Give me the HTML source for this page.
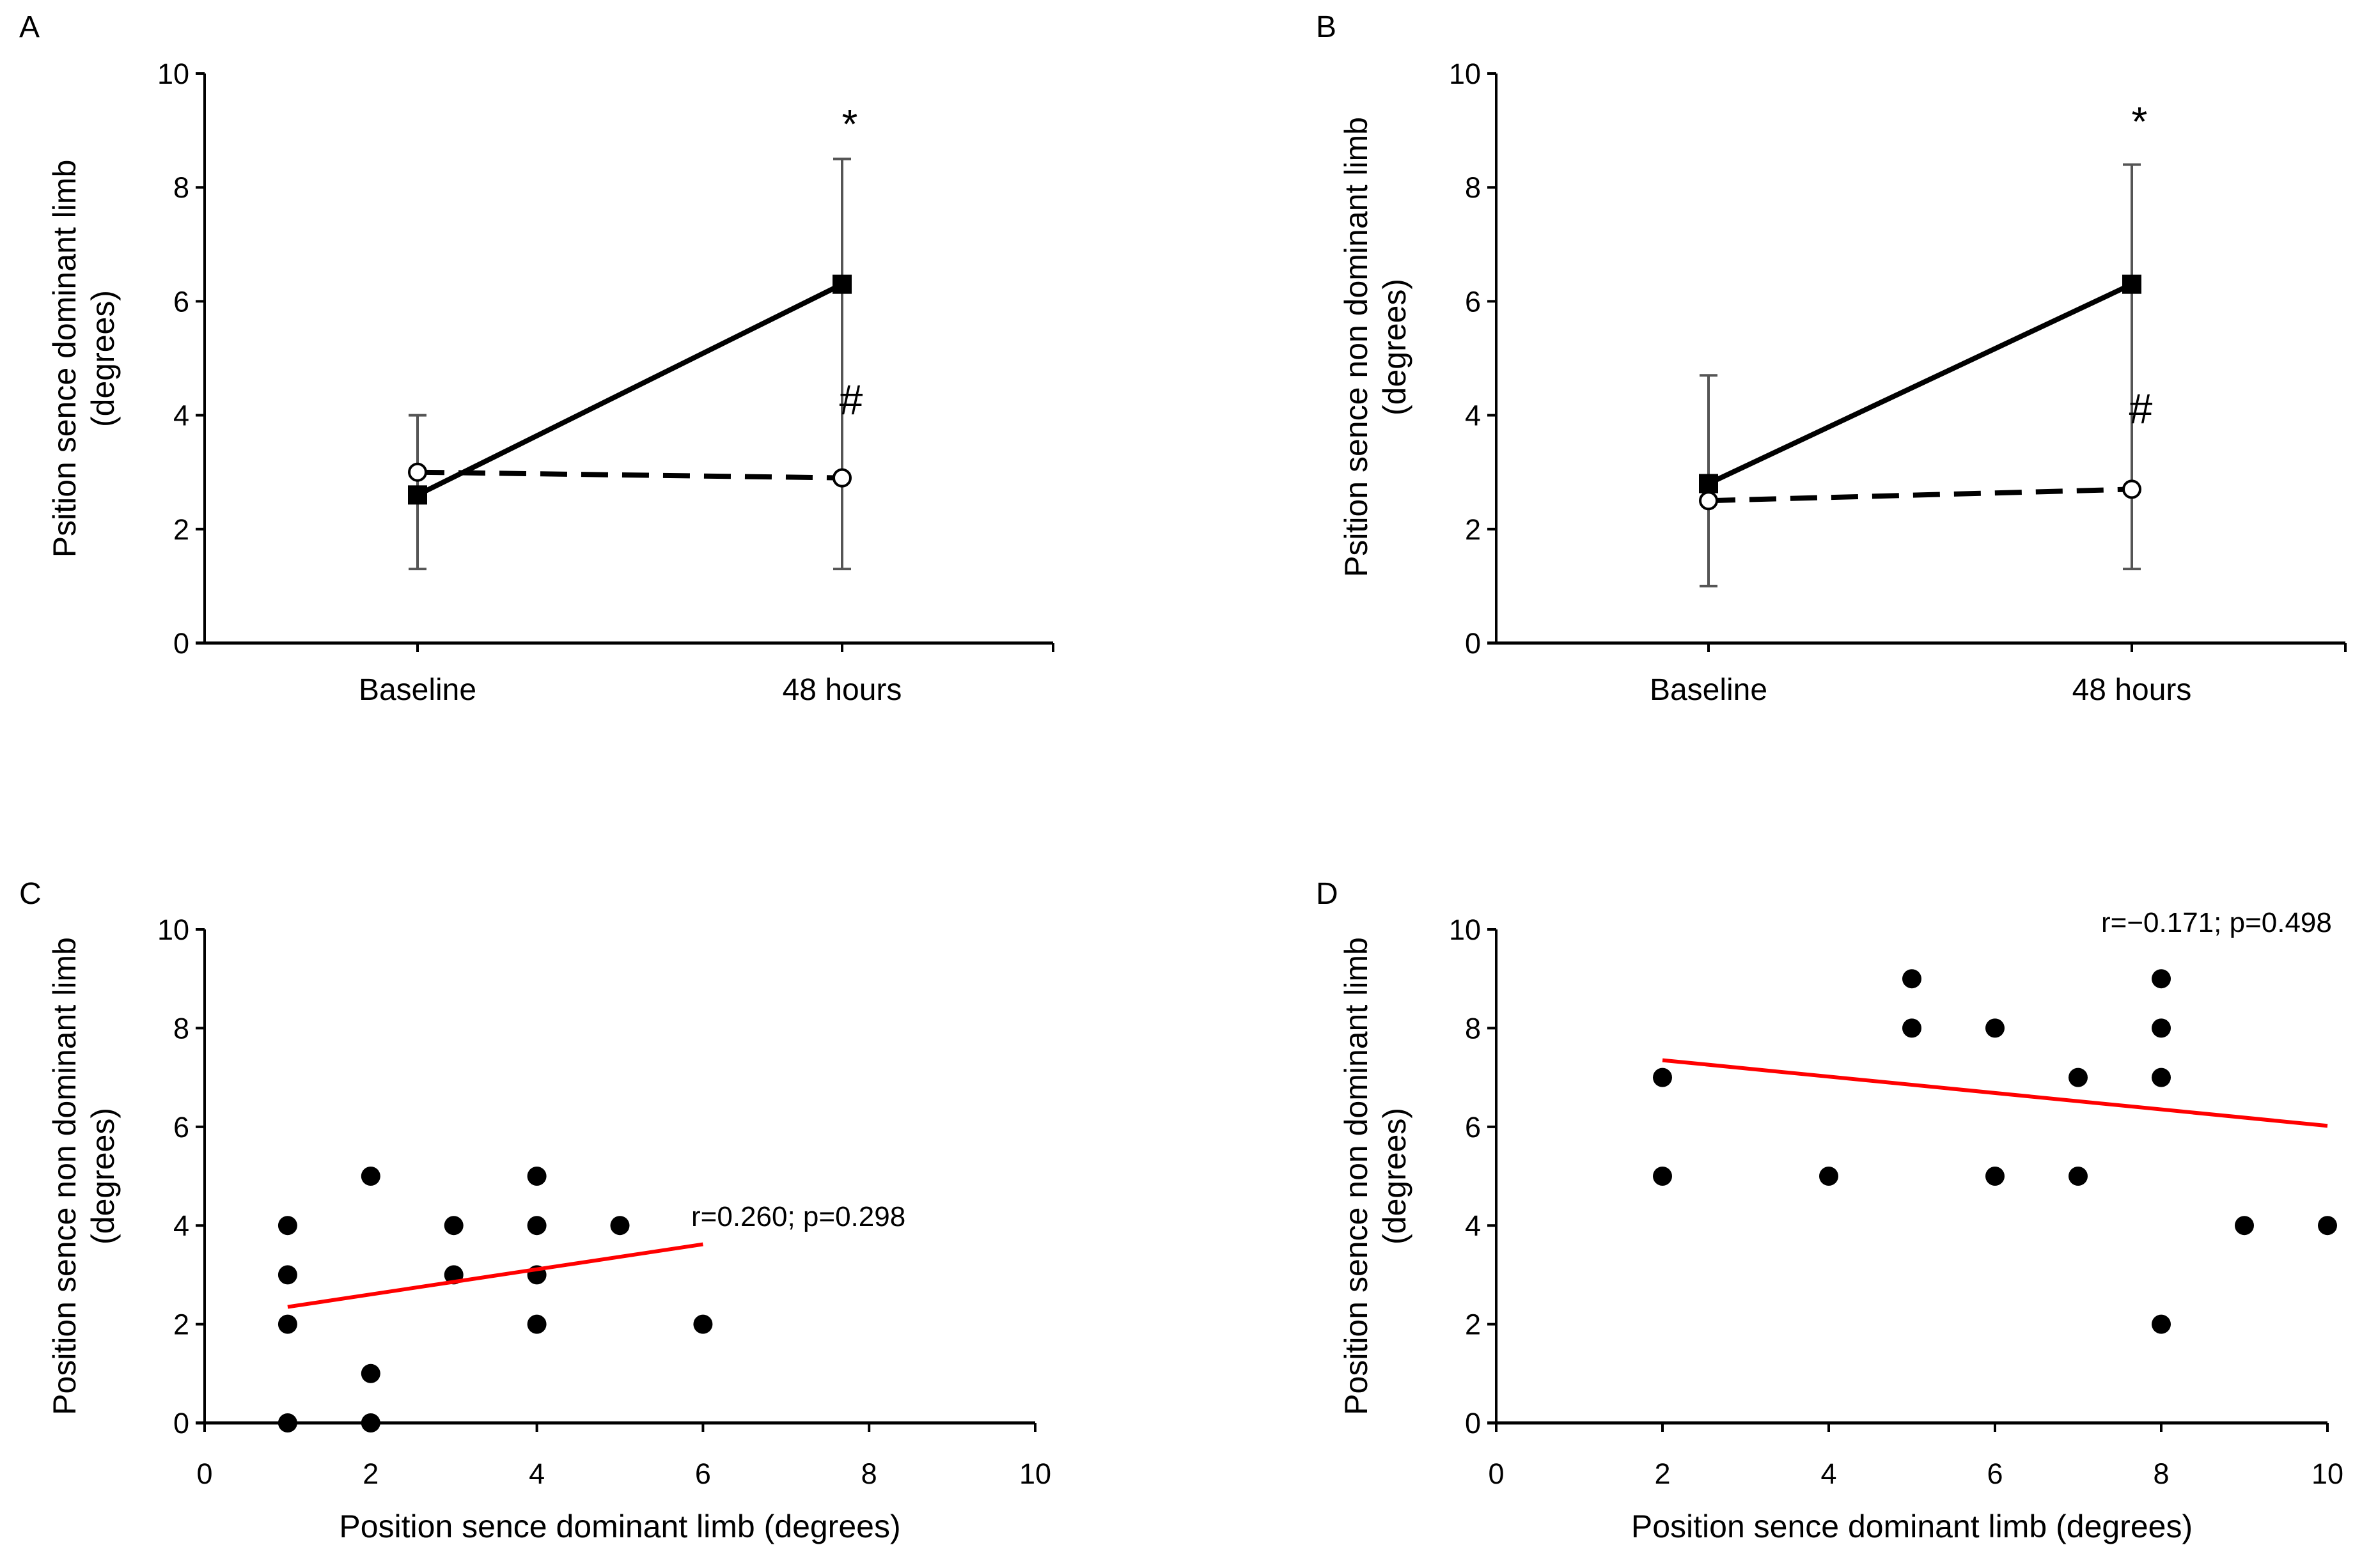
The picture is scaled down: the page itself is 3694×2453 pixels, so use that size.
<!DOCTYPE html>
<html><head><meta charset="utf-8"><style>
html,body{margin:0;padding:0;background:#fff}
svg{display:block;font-family:"Liberation Sans",sans-serif}
</style></head><body>
<svg id="fig" width="3694" height="2453" viewBox="0 0 3694 2453" xmlns="http://www.w3.org/2000/svg"></svg>
<script>
// Panel A data
const lineCats = ["Baseline","48 hours"];
const aSolid = [2.6, 6.3];
const aOpen = [3.0, 2.9];
const aErrLow = [1.3, 1.3];
const aErrHigh = [4.0, 8.5];
// Panel B data
const bSolid = [2.8, 6.3];
const bOpen = [2.5, 2.7];
const bErrLow = [1.0, 1.3];
const bErrHigh = [4.7, 8.4];
const yTicks = [0,2,4,6,8,10];
const xTicks = [0,2,4,6,8,10];
// Panel C data
const cX = [1,1,1,1,2,2,2,3,3,4,4,4,4,5,6];
const cY = [4,3,2,0,5,1,0,4,3,5,4,3,2,4,2];
const cFit = [[1,2.35],[6,3.62]];
// Panel D data
const dX = [2,2,4,5,5,6,6,7,7,8,8,8,8,9,10];
const dY = [7,5,5,9,8,8,5,7,5,9,8,7,2,4,4];
const dFit = [[2,7.35],[10,6.02]];

const NS="http://www.w3.org/2000/svg";
const svg=document.getElementById('fig');
function mk(tag,attrs,parent,text){const e=document.createElementNS(NS,tag);for(const k in attrs)e.setAttribute(k,attrs[k]);if(text!==undefined)e.textContent=text;(parent||svg).appendChild(e);return e;}

function axesFrame(g,x0,x1,yTop,y0){
  const ys=v=>y0-(v/10)*(y0-yTop);
  const ya=mk('line',{x1:x0,y1:yTop,x2:x0,y2:y0,stroke:'#000','stroke-width':4},g);
  
  
  const xa=mk('line',{x1:x0-14,y1:y0,x2:x1,y2:y0,stroke:'#000','stroke-width':5},g);
  
  
  yTicks.forEach(v=>{
    mk('line',{x1:x0-14,y1:ys(v),x2:x0,y2:ys(v),stroke:'#000','stroke-width':4},g);
    const t=mk('text',{x:x0-24,y:ys(v)+16,'text-anchor':'end','font-size':45},g,String(v));
    
    
  });
  return ys;
}
function yTitle(g,cx,cy,l1,l2){
  const t=mk('text',{transform:`translate(${cx},${cy}) rotate(-90)`,'text-anchor':'middle','font-size':50},g);
  
  
  mk('tspan',{x:0,y:0},t,l1);
  mk('tspan',{x:0,y:60},t,l2);
}
function panelLabel(x,y,s){const t=mk('text',{x:x,y:y,'font-size':48},svg,s);}

function linePanel(name,x0,x1,catX,solid,open,lo,hi,starY,hashY){
  const g=mk('g',{});
  
  
  const yTop=115,y0=1006;
  const ys=axesFrame(g,x0,x1,yTop,y0);
  mk('line',{x1:x1,y1:y0,x2:x1,y2:y0+14,stroke:'#000','stroke-width':4},g);
  lineCats.forEach((c,i)=>{
    mk('line',{x1:catX[i],y1:y0,x2:catX[i],y2:y0+14,stroke:'#000','stroke-width':4},g);
    const t=mk('text',{x:catX[i],y:1095,'text-anchor':'middle','font-size':48},g,c);
    
    
  });
  lineCats.forEach((c,i)=>{
    const e=mk('g',{stroke:'#555','stroke-width':4},g);
    
    
    mk('line',{x1:catX[i],y1:ys(lo[i]),x2:catX[i],y2:ys(hi[i])},e);
    mk('line',{x1:catX[i]-14,y1:ys(lo[i]),x2:catX[i]+14,y2:ys(lo[i])},e);
    mk('line',{x1:catX[i]-14,y1:ys(hi[i]),x2:catX[i]+14,y2:ys(hi[i])},e);
  });
  const dl=mk('polyline',{points:open.map((v,i)=>catX[i]+','+ys(v)).join(' '),fill:'none',stroke:'#000','stroke-width':8,'stroke-dasharray':'42 22'},g);
  
  
  const sl=mk('polyline',{points:solid.map((v,i)=>catX[i]+','+ys(v)).join(' '),fill:'none',stroke:'#000','stroke-width':8},g);
  
  
  solid.forEach((v,i)=>{const r=mk('rect',{x:catX[i]-15,y:ys(v)-15,width:30,height:30,fill:'#000'},g);});
  open.forEach((v,i)=>{const c=mk('circle',{cx:catX[i],cy:ys(v),r:13,fill:'#fff',stroke:'#000','stroke-width':4},g);});
  const s=mk('text',{x:catX[1]+12,y:starY,'text-anchor':'middle','font-size':64},g,'*');
  const h=mk('text',{x:catX[1]+14,y:hashY,'text-anchor':'middle','font-size':66},g,'#');
  return g;
}

function scatterPanel(name,x0,x1,xs,yv,fit,label,lx,ly){
  const g=mk('g',{});
  
  
  const yTop=1454,y0=2226;
  const ys=axesFrame(g,x0,x1,yTop,y0);
  const xsc=v=>x0+(v/10)*(x1-x0);
  xTicks.forEach(v=>{
    mk('line',{x1:xsc(v),y1:y0,x2:xsc(v),y2:y0+14,stroke:'#000','stroke-width':4},g);
    const t=mk('text',{x:xsc(v),y:2321,'text-anchor':'middle','font-size':45},g,String(v));
    
    
  });
  const xt=mk('text',{x:(x0+x1)/2,y:2405,'text-anchor':'middle','font-size':50},g,'Position sence dominant limb (degrees)');
  
  
  xs.forEach((v,i)=>{const c=mk('circle',{cx:xsc(v),cy:ys(yv[i]),r:15,fill:'#000'},g);});
  const fl=mk('line',{x1:xsc(fit[0][0]),y1:ys(fit[0][1]),x2:xsc(fit[1][0]),y2:ys(fit[1][1]),stroke:'#ff0000','stroke-width':6},g);
  
  
  const t=mk('text',{x:lx,y:ly,'font-size':44},g,label);
  
  
  return g;
}

panelLabel(30,58,'A');panelLabel(2058,58,'B');panelLabel(30,1414,'C');panelLabel(2058,1414,'D');
const gA=linePanel('panel-a-chart',320,1647,[653,1317],aSolid,aOpen,aErrLow,aErrHigh,216,648);
yTitle(gA,118,561,'Psition sence dominant limb','(degrees)');
const gB=linePanel('panel-b-chart',2340,3668,[2672,3334],bSolid,bOpen,bErrLow,bErrHigh,212,662);
yTitle(gB,2138,543,'Psition sence non dominant limb','(degrees)');
const gC=scatterPanel('panel-c-chart',320,1619,cX,cY,cFit,'r=0.260; p=0.298',1081,1918);
yTitle(gC,118,1840,'Position sence non dominant limb','(degrees)');
const gD=scatterPanel('panel-d-chart',2340,3640,dX,dY,dFit,'r=\u22120.171; p=0.498',3286,1458);
yTitle(gD,2138,1840,'Position sence non dominant limb','(degrees)');
</script>
</body></html>
